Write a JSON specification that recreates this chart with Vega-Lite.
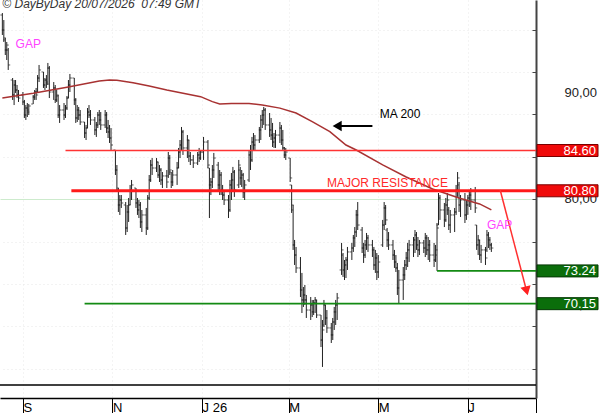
{
"$schema": "https://vega.github.io/schema/vega-lite/v6.json",
"width": 536,
"height": 398,
"autosize": {"type": "none"},
"padding": {"left": 0, "top": 0, "right": 64, "bottom": 15},
"background": "#ffffff",
"config": {"view": {"stroke": null}, "font": "Liberation Sans", "axis": {"labelOverlap": false, "labelSeparation": 0}},
"datasets": {
"bars": [
{"d":"2025-08-18","o":97.38,"h":97.57,"l":95.50,"c":95.97},
{"d":"2025-08-19","o":95.97,"h":96.91,"l":94.84,"c":95.22},
{"d":"2025-08-20","o":95.03,"h":95.22,"l":93.61,"c":94.08},
{"d":"2025-08-21","o":94.08,"h":94.84,"l":93.14,"c":94.55},
{"d":"2025-08-22","o":94.08,"h":94.27,"l":92.20,"c":92.67},
{"d":"2025-08-25","o":91.25,"h":91.44,"l":89.37,"c":89.84},
{"d":"2025-08-26","o":89.84,"h":91.25,"l":88.89,"c":90.78},
{"d":"2025-08-27","o":90.78,"h":91.25,"l":90.03,"c":90.31},
{"d":"2025-08-28","o":90.31,"h":90.78,"l":89.55,"c":89.84},
{"d":"2025-08-29","o":89.84,"h":90.31,"l":89.18,"c":89.55},
{"d":"2025-09-01","o":89.84,"h":90.12,"l":88.89,"c":89.18},
{"d":"2025-09-02","o":89.18,"h":89.37,"l":87.67,"c":87.95},
{"d":"2025-09-03","o":87.95,"h":88.89,"l":87.48,"c":88.61},
{"d":"2025-09-04","o":88.61,"h":89.08,"l":87.76,"c":88.23},
{"d":"2025-09-05","o":88.42,"h":88.99,"l":87.95,"c":88.80},
{"d":"2025-09-08","o":88.99,"h":89.84,"l":88.99,"c":89.65},
{"d":"2025-09-09","o":89.65,"h":90.31,"l":89.37,"c":90.12},
{"d":"2025-09-10","o":90.12,"h":90.50,"l":89.37,"c":89.84},
{"d":"2025-09-11","o":90.12,"h":91.72,"l":90.03,"c":91.44},
{"d":"2025-09-12","o":91.44,"h":92.67,"l":91.06,"c":92.20},
{"d":"2025-09-15","o":92.01,"h":92.01,"l":90.50,"c":90.78},
{"d":"2025-09-16","o":90.78,"h":91.44,"l":90.31,"c":91.25},
{"d":"2025-09-17","o":91.25,"h":91.72,"l":90.50,"c":90.88},
{"d":"2025-09-18","o":91.06,"h":92.86,"l":90.78,"c":92.38},
{"d":"2025-09-19","o":92.38,"h":92.57,"l":89.55,"c":90.12},
{"d":"2025-09-22","o":90.12,"h":91.06,"l":89.37,"c":90.50},
{"d":"2025-09-23","o":90.50,"h":90.78,"l":89.08,"c":89.37},
{"d":"2025-09-24","o":89.37,"h":90.31,"l":89.18,"c":89.84},
{"d":"2025-09-25","o":89.74,"h":89.84,"l":87.67,"c":87.95},
{"d":"2025-09-26","o":87.95,"h":88.89,"l":87.20,"c":88.42},
{"d":"2025-09-29","o":88.42,"h":89.08,"l":87.48,"c":87.95},
{"d":"2025-09-30","o":87.95,"h":88.89,"l":87.67,"c":88.61},
{"d":"2025-10-01","o":88.61,"h":89.74,"l":88.42,"c":89.55},
{"d":"2025-10-02","o":89.55,"h":91.25,"l":89.55,"c":90.78},
{"d":"2025-10-03","o":90.78,"h":91.82,"l":90.12,"c":91.44},
{"d":"2025-10-06","o":91.44,"h":91.44,"l":88.89,"c":89.37},
{"d":"2025-10-07","o":89.37,"h":89.55,"l":87.20,"c":87.67},
{"d":"2025-10-08","o":87.67,"h":88.89,"l":87.29,"c":88.42},
{"d":"2025-10-09","o":88.42,"h":88.71,"l":87.48,"c":87.95},
{"d":"2025-10-10","o":87.95,"h":88.42,"l":87.01,"c":87.29},
{"d":"2025-10-13","o":87.29,"h":87.29,"l":85.78,"c":86.25},
{"d":"2025-10-14","o":86.25,"h":87.01,"l":85.59,"c":86.72},
{"d":"2025-10-15","o":86.72,"h":88.61,"l":86.72,"c":88.23},
{"d":"2025-10-16","o":88.23,"h":88.89,"l":87.67,"c":87.95},
{"d":"2025-10-17","o":87.95,"h":88.42,"l":87.01,"c":87.48},
{"d":"2025-10-20","o":87.48,"h":87.76,"l":86.06,"c":86.54},
{"d":"2025-10-21","o":86.54,"h":87.29,"l":85.88,"c":87.01},
{"d":"2025-10-22","o":87.01,"h":88.23,"l":86.72,"c":87.95},
{"d":"2025-10-23","o":87.95,"h":88.42,"l":87.01,"c":87.48},
{"d":"2025-10-24","o":87.48,"h":88.23,"l":86.54,"c":87.01},
{"d":"2025-10-27","o":87.01,"h":88.42,"l":86.72,"c":87.95},
{"d":"2025-10-28","o":87.95,"h":88.23,"l":86.25,"c":86.72},
{"d":"2025-10-29","o":86.72,"h":87.48,"l":85.78,"c":86.35},
{"d":"2025-10-30","o":86.35,"h":87.01,"l":85.31,"c":85.78},
{"d":"2025-10-31","o":85.78,"h":86.72,"l":84.65,"c":85.12},
{"d":"2025-11-03","o":84.65,"h":84.65,"l":82.29,"c":82.76},
{"d":"2025-11-04","o":82.76,"h":83.23,"l":80.69,"c":81.06},
{"d":"2025-11-05","o":80.88,"h":81.06,"l":78.80,"c":79.46},
{"d":"2025-11-06","o":79.46,"h":80.40,"l":78.52,"c":79.93},
{"d":"2025-11-07","o":79.93,"h":80.40,"l":79.18,"c":79.65},
{"d":"2025-11-10","o":79.46,"h":79.74,"l":76.63,"c":77.29},
{"d":"2025-11-11","o":77.29,"h":79.46,"l":76.91,"c":78.80},
{"d":"2025-11-12","o":78.80,"h":80.12,"l":77.86,"c":79.46},
{"d":"2025-11-13","o":79.46,"h":81.35,"l":79.46,"c":80.88},
{"d":"2025-11-14","o":80.88,"h":81.82,"l":79.93,"c":81.35},
{"d":"2025-11-17","o":81.06,"h":81.06,"l":79.18,"c":79.65},
{"d":"2025-11-18","o":79.65,"h":80.12,"l":78.52,"c":78.99},
{"d":"2025-11-19","o":78.99,"h":79.93,"l":78.23,"c":79.46},
{"d":"2025-11-20","o":79.46,"h":79.74,"l":77.29,"c":77.86},
{"d":"2025-11-21","o":77.86,"h":78.99,"l":76.91,"c":78.52},
{"d":"2025-11-24","o":78.52,"h":79.18,"l":76.63,"c":77.29},
{"d":"2025-11-25","o":77.29,"h":80.40,"l":77.10,"c":80.12},
{"d":"2025-11-26","o":80.12,"h":82.29,"l":79.93,"c":81.82},
{"d":"2025-11-27","o":81.82,"h":83.71,"l":81.63,"c":83.23},
{"d":"2025-11-28","o":83.23,"h":83.89,"l":82.29,"c":82.95},
{"d":"2025-12-01","o":82.95,"h":83.89,"l":82.57,"c":83.52},
{"d":"2025-12-02","o":83.52,"h":83.52,"l":82.01,"c":82.29},
{"d":"2025-12-03","o":82.29,"h":83.23,"l":81.63,"c":82.76},
{"d":"2025-12-04","o":82.76,"h":82.95,"l":81.35,"c":81.82},
{"d":"2025-12-05","o":81.82,"h":82.57,"l":81.06,"c":82.20},
{"d":"2025-12-08","o":82.20,"h":82.76,"l":81.06,"c":81.63},
{"d":"2025-12-09","o":82.20,"h":84.46,"l":82.01,"c":83.89},
{"d":"2025-12-10","o":83.89,"h":84.18,"l":82.29,"c":82.76},
{"d":"2025-12-11","o":82.57,"h":82.57,"l":81.06,"c":81.63},
{"d":"2025-12-12","o":81.63,"h":82.76,"l":81.25,"c":82.29},
{"d":"2025-12-15","o":82.29,"h":83.52,"l":81.35,"c":82.95},
{"d":"2025-12-16","o":82.95,"h":84.84,"l":82.95,"c":84.46},
{"d":"2025-12-17","o":84.46,"h":85.59,"l":83.89,"c":85.12},
{"d":"2025-12-18","o":85.12,"h":86.82,"l":84.65,"c":86.35},
{"d":"2025-12-19","o":86.35,"h":86.54,"l":84.18,"c":84.84},
{"d":"2025-12-22","o":84.84,"h":86.06,"l":83.89,"c":85.59},
{"d":"2025-12-23","o":85.59,"h":85.59,"l":83.52,"c":84.08},
{"d":"2025-12-24","o":84.08,"h":84.46,"l":83.23,"c":83.71},
{"d":"2025-12-26","o":83.71,"h":84.18,"l":82.95,"c":83.42},
{"d":"2025-12-29","o":83.42,"h":84.46,"l":83.23,"c":84.18},
{"d":"2025-12-30","o":84.18,"h":84.84,"l":83.52,"c":83.89},
{"d":"2025-12-31","o":83.89,"h":84.65,"l":83.71,"c":84.46},
{"d":"2026-01-02","o":84.46,"h":85.88,"l":83.71,"c":85.40},
{"d":"2026-01-05","o":85.40,"h":85.59,"l":82.95,"c":83.23},
{"d":"2026-01-06","o":82.95,"h":82.95,"l":78.23,"c":81.35},
{"d":"2026-01-07","o":81.35,"h":82.01,"l":80.40,"c":81.63},
{"d":"2026-01-08","o":81.63,"h":83.23,"l":81.06,"c":82.76},
{"d":"2026-01-09","o":82.76,"h":84.37,"l":82.01,"c":83.89},
{"d":"2026-01-12","o":83.23,"h":83.52,"l":80.69,"c":81.35},
{"d":"2026-01-13","o":81.35,"h":82.76,"l":80.40,"c":82.29},
{"d":"2026-01-14","o":82.29,"h":82.57,"l":80.40,"c":80.88},
{"d":"2026-01-15","o":80.88,"h":81.35,"l":79.93,"c":80.40},
{"d":"2026-01-16","o":80.40,"h":80.69,"l":79.46,"c":79.93},
{"d":"2026-01-19","o":79.93,"h":80.40,"l":78.23,"c":78.99},
{"d":"2026-01-20","o":78.99,"h":81.82,"l":78.80,"c":81.35},
{"d":"2026-01-21","o":81.35,"h":82.48,"l":79.93,"c":81.82},
{"d":"2026-01-22","o":81.82,"h":83.05,"l":80.69,"c":82.57},
{"d":"2026-01-23","o":82.57,"h":82.76,"l":80.22,"c":80.88},
{"d":"2026-01-26","o":81.35,"h":83.71,"l":81.06,"c":83.23},
{"d":"2026-01-27","o":82.76,"h":83.05,"l":81.35,"c":82.01},
{"d":"2026-01-28","o":82.01,"h":82.76,"l":81.16,"c":82.29},
{"d":"2026-01-29","o":82.29,"h":82.48,"l":80.12,"c":80.69},
{"d":"2026-01-30","o":80.69,"h":81.82,"l":79.93,"c":81.35},
{"d":"2026-02-02","o":81.82,"h":84.65,"l":81.63,"c":84.18},
{"d":"2026-02-03","o":84.18,"h":85.12,"l":82.76,"c":83.71},
{"d":"2026-02-04","o":83.71,"h":85.88,"l":83.52,"c":85.40},
{"d":"2026-02-05","o":85.40,"h":86.25,"l":84.65,"c":85.12},
{"d":"2026-02-06","o":85.12,"h":86.06,"l":84.65,"c":85.59},
{"d":"2026-02-09","o":85.59,"h":86.82,"l":85.31,"c":86.54},
{"d":"2026-02-10","o":86.54,"h":87.95,"l":85.59,"c":87.48},
{"d":"2026-02-11","o":87.48,"h":88.42,"l":86.72,"c":87.95},
{"d":"2026-02-12","o":87.95,"h":88.71,"l":87.01,"c":88.42},
{"d":"2026-02-13","o":88.42,"h":88.61,"l":86.54,"c":87.01},
{"d":"2026-02-16","o":87.01,"h":88.14,"l":85.88,"c":86.54},
{"d":"2026-02-17","o":86.54,"h":87.67,"l":85.59,"c":86.06},
{"d":"2026-02-18","o":86.06,"h":87.20,"l":84.93,"c":85.40},
{"d":"2026-02-19","o":85.40,"h":86.25,"l":84.84,"c":85.78},
{"d":"2026-02-20","o":85.78,"h":86.54,"l":84.84,"c":86.06},
{"d":"2026-02-23","o":86.06,"h":87.29,"l":85.31,"c":86.72},
{"d":"2026-02-24","o":86.72,"h":87.01,"l":85.12,"c":85.59},
{"d":"2026-02-25","o":85.59,"h":86.54,"l":84.65,"c":84.84},
{"d":"2026-02-26","o":84.84,"h":84.93,"l":83.89,"c":84.18},
{"d":"2026-02-27","o":84.18,"h":84.84,"l":83.71,"c":84.46},
{"d":"2026-03-02","o":83.89,"h":83.89,"l":81.63,"c":82.01},
{"d":"2026-03-03","o":81.35,"h":81.35,"l":78.71,"c":79.46},
{"d":"2026-03-04","o":78.99,"h":79.46,"l":75.22,"c":75.69},
{"d":"2026-03-05","o":75.69,"h":76.16,"l":73.80,"c":74.74},
{"d":"2026-03-06","o":74.74,"h":75.50,"l":73.05,"c":73.52},
{"d":"2026-03-09","o":73.52,"h":74.55,"l":70.78,"c":71.44},
{"d":"2026-03-10","o":71.44,"h":73.05,"l":69.27,"c":70.50},
{"d":"2026-03-11","o":70.50,"h":71.72,"l":69.84,"c":70.97},
{"d":"2026-03-12","o":70.97,"h":71.91,"l":70.03,"c":70.50},
{"d":"2026-03-13","o":70.50,"h":70.97,"l":68.80,"c":69.55},
{"d":"2026-03-16","o":69.55,"h":70.78,"l":68.61,"c":70.03},
{"d":"2026-03-17","o":70.03,"h":70.50,"l":68.89,"c":69.37},
{"d":"2026-03-18","o":69.37,"h":70.50,"l":69.08,"c":70.22},
{"d":"2026-03-19","o":70.22,"h":70.78,"l":69.27,"c":70.50},
{"d":"2026-03-20","o":70.50,"h":70.50,"l":68.80,"c":69.08},
{"d":"2026-03-23","o":69.08,"h":69.08,"l":66.06,"c":66.72},
{"d":"2026-03-24","o":66.72,"h":68.61,"l":64.18,"c":67.67},
{"d":"2026-03-25","o":68.14,"h":70.50,"l":67.95,"c":70.03},
{"d":"2026-03-26","o":70.03,"h":70.03,"l":68.14,"c":68.80},
{"d":"2026-03-27","o":68.80,"h":69.55,"l":67.39,"c":67.86},
{"d":"2026-03-30","o":67.86,"h":68.33,"l":66.44,"c":67.20},
{"d":"2026-03-31","o":67.20,"h":68.80,"l":66.72,"c":68.42},
{"d":"2026-04-01","o":68.42,"h":69.84,"l":67.67,"c":69.37},
{"d":"2026-04-02","o":69.37,"h":70.50,"l":68.14,"c":70.03},
{"d":"2026-04-03","o":70.03,"h":71.16,"l":68.61,"c":70.69},
{"d":"2026-04-06","o":73.33,"h":75.88,"l":72.86,"c":75.22},
{"d":"2026-04-07","o":74.74,"h":74.93,"l":72.67,"c":73.33},
{"d":"2026-04-08","o":73.33,"h":74.27,"l":72.38,"c":73.80},
{"d":"2026-04-09","o":73.80,"h":74.55,"l":72.57,"c":74.27},
{"d":"2026-04-10","o":74.27,"h":75.50,"l":73.33,"c":75.03},
{"d":"2026-04-13","o":75.03,"h":75.88,"l":74.27,"c":75.40},
{"d":"2026-04-14","o":75.40,"h":76.63,"l":75.03,"c":76.35},
{"d":"2026-04-15","o":76.35,"h":77.38,"l":75.50,"c":76.91},
{"d":"2026-04-16","o":76.91,"h":78.99,"l":76.44,"c":78.52},
{"d":"2026-04-17","o":78.52,"h":79.74,"l":77.10,"c":77.57},
{"d":"2026-04-20","o":77.10,"h":77.38,"l":74.93,"c":75.40},
{"d":"2026-04-21","o":75.40,"h":75.88,"l":73.99,"c":74.74},
{"d":"2026-04-22","o":74.74,"h":76.16,"l":74.46,"c":75.69},
{"d":"2026-04-23","o":75.69,"h":76.82,"l":75.22,"c":76.35},
{"d":"2026-04-24","o":76.35,"h":76.63,"l":75.03,"c":75.69},
{"d":"2026-04-27","o":75.69,"h":76.16,"l":74.55,"c":75.22},
{"d":"2026-04-28","o":75.22,"h":75.50,"l":73.33,"c":73.80},
{"d":"2026-04-29","o":73.80,"h":75.22,"l":73.05,"c":74.46},
{"d":"2026-04-30","o":74.46,"h":74.93,"l":72.38,"c":73.14},
{"d":"2026-05-01","o":73.14,"h":74.74,"l":72.57,"c":74.08},
{"d":"2026-05-04","o":75.69,"h":78.05,"l":75.50,"c":77.57},
{"d":"2026-05-05","o":77.57,"h":79.74,"l":77.10,"c":79.18},
{"d":"2026-05-06","o":79.18,"h":79.46,"l":77.57,"c":78.05},
{"d":"2026-05-07","o":77.10,"h":77.29,"l":75.50,"c":76.16},
{"d":"2026-05-08","o":76.16,"h":76.91,"l":75.22,"c":75.69},
{"d":"2026-05-11","o":75.69,"h":76.16,"l":74.27,"c":74.74},
{"d":"2026-05-12","o":74.74,"h":75.22,"l":73.52,"c":74.08},
{"d":"2026-05-13","o":74.08,"h":74.74,"l":73.14,"c":73.52},
{"d":"2026-05-14","o":73.52,"h":73.99,"l":70.97,"c":71.63},
{"d":"2026-05-15","o":71.63,"h":73.33,"l":70.15,"c":72.38},
{"d":"2026-05-18","o":72.38,"h":73.61,"l":70.50,"c":72.86},
{"d":"2026-05-19","o":72.86,"h":74.27,"l":72.38,"c":73.80},
{"d":"2026-05-20","o":73.80,"h":75.03,"l":73.33,"c":74.46},
{"d":"2026-05-21","o":74.46,"h":75.88,"l":73.61,"c":75.22},
{"d":"2026-05-22","o":75.22,"h":76.16,"l":74.08,"c":75.69},
{"d":"2026-05-25","o":75.69,"h":76.44,"l":74.55,"c":76.16},
{"d":"2026-05-26","o":76.16,"h":77.10,"l":74.93,"c":76.63},
{"d":"2026-05-27","o":76.63,"h":76.91,"l":75.22,"c":75.69},
{"d":"2026-05-28","o":75.69,"h":76.44,"l":74.55,"c":75.22},
{"d":"2026-05-29","o":75.22,"h":76.16,"l":74.74,"c":75.88},
{"d":"2026-06-01","o":75.88,"h":76.16,"l":74.93,"c":75.40},
{"d":"2026-06-02","o":75.40,"h":76.82,"l":74.55,"c":76.35},
{"d":"2026-06-03","o":76.35,"h":76.63,"l":74.74,"c":75.22},
{"d":"2026-06-04","o":75.22,"h":76.44,"l":74.27,"c":75.69},
{"d":"2026-06-05","o":75.69,"h":76.16,"l":74.08,"c":74.74},
{"d":"2026-06-08","o":74.74,"h":75.88,"l":73.61,"c":74.27},
{"d":"2026-06-09","o":74.27,"h":75.69,"l":74.08,"c":75.22},
{"d":"2026-06-10","o":74.74,"h":77.76,"l":73.24,"c":77.29},
{"d":"2026-06-11","o":77.57,"h":80.59,"l":77.57,"c":80.12},
{"d":"2026-06-12","o":80.12,"h":80.40,"l":78.05,"c":78.99},
{"d":"2026-06-15","o":78.99,"h":79.65,"l":77.38,"c":78.05},
{"d":"2026-06-16","o":78.05,"h":80.12,"l":77.86,"c":79.46},
{"d":"2026-06-17","o":79.46,"h":80.59,"l":78.52,"c":79.93},
{"d":"2026-06-18","o":78.99,"h":79.27,"l":77.10,"c":77.57},
{"d":"2026-06-19","o":77.57,"h":78.99,"l":76.82,"c":78.52},
{"d":"2026-06-22","o":78.52,"h":79.18,"l":76.91,"c":78.80},
{"d":"2026-06-23","o":78.80,"h":81.35,"l":78.52,"c":80.88},
{"d":"2026-06-24","o":80.88,"h":82.57,"l":80.22,"c":82.01},
{"d":"2026-06-25","o":81.35,"h":81.63,"l":78.80,"c":79.46},
{"d":"2026-06-26","o":79.46,"h":80.40,"l":78.33,"c":79.93},
{"d":"2026-06-29","o":79.93,"h":80.59,"l":77.76,"c":78.52},
{"d":"2026-06-30","o":78.52,"h":79.93,"l":78.05,"c":79.46},
{"d":"2026-07-01","o":79.46,"h":80.40,"l":78.52,"c":80.12},
{"d":"2026-07-02","o":80.12,"h":80.88,"l":79.27,"c":80.40},
{"d":"2026-07-03","o":80.40,"h":81.06,"l":78.99,"c":79.93},
{"d":"2026-07-06","o":79.93,"h":81.16,"l":78.71,"c":79.18},
{"d":"2026-07-07","o":77.57,"h":77.57,"l":75.22,"c":75.69},
{"d":"2026-07-08","o":75.69,"h":76.63,"l":74.74,"c":76.16},
{"d":"2026-07-09","o":76.16,"h":76.16,"l":74.27,"c":74.74},
{"d":"2026-07-10","o":74.74,"h":75.69,"l":73.99,"c":75.22},
{"d":"2026-07-13","o":75.22,"h":75.50,"l":73.80,"c":74.46},
{"d":"2026-07-14","o":75.22,"h":77.10,"l":75.03,"c":76.63},
{"d":"2026-07-15","o":76.63,"h":76.91,"l":75.40,"c":76.16},
{"d":"2026-07-16","o":76.16,"h":76.44,"l":75.22,"c":75.69},
{"d":"2026-07-17","o":75.69,"h":75.88,"l":75.03,"c":75.40}
],
"ma": [
{"d":"2025-08-18","ma":89.55},
{"d":"2025-09-08","ma":90.00},
{"d":"2025-10-01","ma":90.57},
{"d":"2025-10-23","ma":91.16},
{"d":"2025-10-30","ma":91.25},
{"d":"2025-11-04","ma":91.23},
{"d":"2025-11-15","ma":91.00},
{"d":"2025-11-26","ma":90.69},
{"d":"2025-12-08","ma":90.31},
{"d":"2025-12-31","ma":89.68},
{"d":"2026-01-08","ma":89.21},
{"d":"2026-01-13","ma":88.99},
{"d":"2026-01-21","ma":89.04},
{"d":"2026-02-02","ma":89.04},
{"d":"2026-02-11","ma":88.90},
{"d":"2026-02-23","ma":88.60},
{"d":"2026-03-06","ma":88.14},
{"d":"2026-03-17","ma":87.32},
{"d":"2026-03-29","ma":86.38},
{"d":"2026-04-09","ma":85.12},
{"d":"2026-04-16","ma":84.65},
{"d":"2026-05-04","ma":83.24},
{"d":"2026-05-20","ma":82.10},
{"d":"2026-06-07","ma":80.97},
{"d":"2026-06-25","ma":80.12},
{"d":"2026-07-09","ma":79.56},
{"d":"2026-07-17","ma":79.00}
],
"levels": [
{"p":84.60,"from":"2025-09-30","lab":"84.60","kind":"res"},
{"p":80.80,"from":"2025-10-04","lab":"80.80","kind":"major"},
{"p":73.24,"from":"2026-06-10","lab":"73.24","kind":"sup"},
{"p":70.15,"from":"2025-10-13","lab":"70.15","kind":"sup"}
],
"ylabels": [
{"p":90,"lab":"90,00"},
{"p":80,"lab":"80,00"},
{"p":70,"lab":"70,00"}
],
"notes": [
{"d":"2025-08-18","p":98.09,"t":"© DayByDay 20/07/2026\u00a0 07:49 GMT","kind":"copy"},
{"d":"2025-08-27","p":94.27,"t":"GAP","kind":"gap"},
{"d":"2026-07-14","p":77.20,"t":"GAP","kind":"gap"},
{"d":"2026-05-02","p":87.67,"t":"MA 200","kind":"ma"},
{"d":"2026-03-27","p":81.16,"t":"MAJOR RESISTANCE","kind":"res"}
],
"arrows": [
{"a":"ma","d":"2026-04-03","p":86.91},
{"a":"ma","d":"2026-04-27","p":86.91},
{"a":"tgt","d":"2026-07-23","p":80.88},
{"a":"tgt","d":"2026-08-10","p":71.35}
],
"heads": [
{"a":"ma","d":"2026-04-03","p":86.91},
{"a":"tgt","d":"2026-08-10","p":71.35}
]
},
"layer": [
{
"data": {"name": "bars"},
"mark": {"type": "rule", "color": "#222222", "strokeWidth": 1},
"encoding": {
"x": {"field": "d", "type": "temporal",
"scale": {"type": "utc", "domain": [{"year": 2025, "month": 8, "date": 16, "hours": 9, "minutes": 36, "utc": true}, {"year": 2026, "month": 8, "date": 16, "hours": 9, "minutes": 36, "utc": true}]},
"axis": {"orient": "bottom", "title": null, "domain": true, "domainColor": "#000000", "domainWidth": 1.5,
"ticks": true, "tickColor": "#000000", "tickSize": 15, "tickWidth": 1,
"values": [{"year": 2025, "month": 9, "date": 1, "utc": true}, {"year": 2025, "month": 11, "date": 1, "utc": true}, {"year": 2026, "month": 1, "date": 1, "utc": true}, {"year": 2026, "month": 3, "date": 1, "utc": true}, {"year": 2026, "month": 5, "date": 1, "utc": true}, {"year": 2026, "month": 7, "date": 1, "utc": true}, {"year": 2026, "month": 8, "date": 16, "hours": 9, "minutes": 36, "utc": true}],
"labelExpr": "utcFormat(datum.value, '%m') == '08' ? '' : (utcFormat(datum.value, '%m') == '01' ? 'J ' + utcFormat(datum.value, '%y') : slice(utcFormat(datum.value, '%b'), 0, 1))",
"labelAlign": "left", "labelBaseline": "alphabetic", "labelPadding": -1.5, "labelDx": 2,
"labelFontSize": 13, "labelColor": "#000000", "labelFlush": false, "labelOverlap": false, "labelBound": false,
"grid": true, "gridColor": "#e8e8e8", "gridDash": [1, 3]}},
"y": {"field": "h", "type": "quantitative",
"scale": {"domain": [61.25, 98.80], "nice": false, "zero": false},
"axis": {"orient": "right", "title": null, "domainColor": "#444444", "domainWidth": 2,
"ticks": true, "tickColor": "#444444", "tickSize": -4, "tickWidth": 1,
"values": [64, 66, 68, 70, 72, 74, 76, 78, 80, 82, 84, 86, 88, 90, 92, 94, 96, 98],
"labels": false,
"grid": true,
"gridColor": {"condition": {"test": "round(datum.value) == 70 || round(datum.value) == 80 || round(datum.value) == 90", "value": "#cdebcd"}, "value": "#e6e6e6"},
"gridDash": {"condition": {"test": "round(datum.value) == 70 || round(datum.value) == 80 || round(datum.value) == 90", "value": []}, "value": [1, 3]}}},
"y2": {"field": "l"}
}
},
{
"data": {"name": "bars"},
"mark": {"type": "tick", "orient": "horizontal", "size": 2, "thickness": 1, "xOffset": -1, "color": "#222222"},
"encoding": {"x": {"field": "d", "type": "temporal"}, "y": {"field": "o", "type": "quantitative"}}
},
{
"data": {"name": "bars"},
"mark": {"type": "tick", "orient": "horizontal", "size": 2, "thickness": 1, "xOffset": 1, "color": "#222222"},
"encoding": {"x": {"field": "d", "type": "temporal"}, "y": {"field": "c", "type": "quantitative"}}
},
{
"data": {"name": "ma"},
"mark": {"type": "line", "color": "#a83232", "strokeWidth": 1.5},
"encoding": {"x": {"field": "d", "type": "temporal"}, "y": {"field": "ma", "type": "quantitative"}}
},
{
"data": {"name": "levels"},
"transform": [{"filter": "datum.kind === 'res'"}],
"mark": {"type": "rule", "color": "#ff3333", "strokeWidth": 1.5},
"encoding": {"x": {"field": "from", "type": "temporal"}, "x2": {"value": "width"}, "y": {"field": "p", "type": "quantitative"}}
},
{
"data": {"name": "levels"},
"transform": [{"filter": "datum.kind === 'major'"}],
"mark": {"type": "rule", "color": "#ff1a1a", "strokeWidth": 3},
"encoding": {"x": {"field": "from", "type": "temporal"}, "x2": {"value": "width"}, "y": {"field": "p", "type": "quantitative"}}
},
{
"data": {"name": "levels"},
"transform": [{"filter": "datum.kind === 'sup'"}],
"mark": {"type": "rule", "color": "#138a13", "strokeWidth": 1.6},
"encoding": {"x": {"field": "from", "type": "temporal"}, "x2": {"value": "width"}, "y": {"field": "p", "type": "quantitative"}}
},
{
"data": {"values": [{}]},
"mark": {"type": "rule", "color": "#000000", "strokeWidth": 1.5},
"encoding": {"y": {"datum": 62.48, "type": "quantitative"}}
},
{
"data": {"name": "arrows"},
"transform": [{"filter": "datum.a === 'ma'"}],
"mark": {"type": "line", "color": "#000000", "strokeWidth": 2},
"encoding": {"x": {"field": "d", "type": "temporal"}, "y": {"field": "p", "type": "quantitative"}}
},
{
"data": {"name": "heads"},
"transform": [{"filter": "datum.a === 'ma'"}],
"mark": {"type": "point", "shape": "triangle-left", "filled": true, "size": 110, "color": "#000000", "opacity": 1},
"encoding": {"x": {"field": "d", "type": "temporal"}, "y": {"field": "p", "type": "quantitative"}}
},
{
"data": {"name": "arrows"},
"transform": [{"filter": "datum.a === 'tgt'"}],
"mark": {"type": "line", "color": "#ff3030", "strokeWidth": 1.5},
"encoding": {"x": {"field": "d", "type": "temporal"}, "y": {"field": "p", "type": "quantitative"}}
},
{
"data": {"name": "heads"},
"transform": [{"filter": "datum.a === 'tgt'"}],
"mark": {"type": "point", "shape": "triangle-down", "filled": true, "size": 110, "angle": -14, "color": "#ff2020", "opacity": 1},
"encoding": {"x": {"field": "d", "type": "temporal"}, "y": {"field": "p", "type": "quantitative"}}
},
{
"data": {"name": "notes"},
"transform": [{"filter": "datum.kind === 'copy'"}],
"mark": {"type": "text", "align": "left", "baseline": "alphabetic", "fontSize": 12, "fontStyle": "italic", "color": "#333333"},
"encoding": {"x": {"field": "d", "type": "temporal"}, "y": {"field": "p", "type": "quantitative"}, "text": {"field": "t"}}
},
{
"data": {"name": "notes"},
"transform": [{"filter": "datum.kind === 'gap'"}],
"mark": {"type": "text", "align": "left", "baseline": "alphabetic", "fontSize": 12, "color": "#ff44ff"},
"encoding": {"x": {"field": "d", "type": "temporal"}, "y": {"field": "p", "type": "quantitative"}, "text": {"field": "t"}}
},
{
"data": {"name": "notes"},
"transform": [{"filter": "datum.kind === 'ma'"}],
"mark": {"type": "text", "align": "left", "baseline": "alphabetic", "fontSize": 12, "color": "#000000"},
"encoding": {"x": {"field": "d", "type": "temporal"}, "y": {"field": "p", "type": "quantitative"}, "text": {"field": "t"}}
},
{
"data": {"name": "notes"},
"transform": [{"filter": "datum.kind === 'res'"}],
"mark": {"type": "text", "align": "left", "baseline": "alphabetic", "fontSize": 12, "color": "#ff2a2a"},
"encoding": {"x": {"field": "d", "type": "temporal"}, "y": {"field": "p", "type": "quantitative"}, "text": {"field": "t"}}
},
{
"data": {"name": "ylabels"},
"mark": {"type": "text", "xOffset": 61, "align": "right", "baseline": "middle", "fontSize": 13, "color": "#222222"},
"encoding": {"x": {"value": "width"}, "y": {"field": "p", "type": "quantitative"}, "text": {"field": "lab"}}
},
{
"data": {"name": "levels"},
"mark": {"type": "rect", "xOffset": 1, "x2Offset": 62, "yOffset": -6, "y2Offset": 6, "strokeWidth": 1},
"encoding": {
"x": {"value": "width"}, "x2": {"value": "width"},
"y": {"field": "p", "type": "quantitative"}, "y2": {"field": "p"},
"fill": {"condition": {"test": "datum.kind === 'sup'", "value": "#0b6e0b"}, "value": "#f00a0a"},
"stroke": {"condition": {"test": "datum.kind === 'sup'", "value": "#053805"}, "value": "#7a0000"}
}
},
{
"data": {"name": "levels"},
"mark": {"type": "text", "xOffset": 60, "align": "right", "baseline": "middle", "fontSize": 13, "color": "#ffffff"},
"encoding": {"x": {"value": "width"}, "y": {"field": "p", "type": "quantitative"}, "text": {"field": "lab"}}
}
]
}
